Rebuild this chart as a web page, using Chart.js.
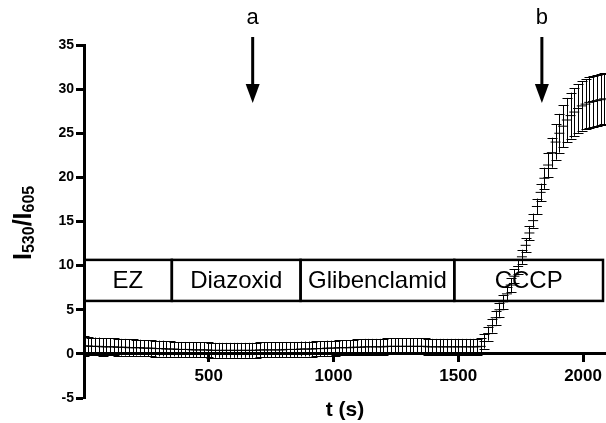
<!DOCTYPE html>
<html>
<head>
<meta charset="utf-8">
<script src="https://cdn.jsdelivr.net/npm/chart.js@4"></script>
<style>
  html, body { margin: 0; padding: 0; background: #fff; }
  canvas { display: block; }
</style>
</head>
<body>
<canvas id="ratioChart" width="606" height="423"></canvas>
<script>
// sample interval of the recording (s)
const sampleStep = 15;

// mean I530/I605 ratio per sample
const meanRatio = [
  0.9, 0.9, 0.85, 0.85, 0.85, 0.8, 0.8, 0.8, 0.8, 0.75,
  0.75, 0.75, 0.7, 0.7, 0.7, 0.7, 0.65, 0.65, 0.65, 0.6,
  0.6, 0.6, 0.55, 0.55, 0.55, 0.5, 0.5, 0.5, 0.5, 0.45,
  0.45, 0.45, 0.45, 0.45, 0.4, 0.4, 0.4, 0.4, 0.4, 0.4,
  0.4, 0.4, 0.4, 0.4, 0.4, 0.4, 0.4, 0.45, 0.45, 0.45,
  0.45, 0.45, 0.45, 0.45, 0.5, 0.5, 0.5, 0.5, 0.55, 0.55,
  0.55, 0.55, 0.6, 0.6, 0.6, 0.65, 0.65, 0.65, 0.7, 0.7,
  0.7, 0.7, 0.75, 0.75, 0.75, 0.8, 0.8, 0.8, 0.8, 0.8,
  0.8, 0.85, 0.85, 0.85, 0.85, 0.85, 0.85, 0.85, 0.85, 0.85,
  0.85, 0.85, 0.8, 0.8, 0.8, 0.8, 0.8, 0.8, 0.8, 0.8,
  0.8, 0.8, 0.8, 0.8, 0.8, 0.8, 0.85,
  // CCCP response
  1.4, 2.3, 3.2, 4.1, 5.0, 5.9, 6.8, 7.8, 8.8, 9.9,
  11.0, 12.3, 13.7, 15.1, 16.7, 18.3, 19.9, 21.4, 22.8, 24.0,
  25.0, 25.8, 26.5, 27.0, 27.4, 27.8, 28.1, 28.3, 28.5, 28.6,
  28.7, 28.8, 28.9
];

// error (+/-) per sample
const errRatio = [
  1.1, 1.05, 1.0, 1.0, 1.0, 1.0, 0.95, 0.95, 0.95, 0.95,
  0.95, 0.95, 0.95, 0.95, 0.9, 0.9, 0.9, 0.9, 0.9, 0.9,
  0.9, 0.9, 0.9, 0.9, 0.85, 0.85, 0.85, 0.85, 0.85, 0.85,
  0.85, 0.85, 0.85, 0.85, 0.85, 0.85, 0.85, 0.85, 0.85, 0.85,
  0.85, 0.85, 0.85, 0.85, 0.85, 0.85, 0.85, 0.85, 0.85, 0.85,
  0.85, 0.85, 0.85, 0.85, 0.85, 0.85, 0.85, 0.85, 0.85, 0.85,
  0.85, 0.85, 0.85, 0.85, 0.85, 0.85, 0.85, 0.85, 0.85, 0.85,
  0.85, 0.85, 0.85, 0.9, 0.9, 0.9, 0.9, 0.9, 0.9, 0.9,
  0.9, 0.9, 0.9, 0.9, 0.9, 0.9, 0.9, 0.9, 0.9, 0.9,
  0.9, 0.9, 0.9, 0.9, 0.9, 0.9, 0.9, 0.9, 0.9, 0.9,
  0.9, 0.9, 0.9, 0.9, 0.9, 0.9, 0.9,
  0.8, 0.8, 0.8, 0.8, 0.8, 0.8, 0.8, 0.8, 0.8, 0.8,
  0.8, 0.8, 0.8, 0.8, 0.9, 1.0, 1.2, 1.4, 1.7, 2.0,
  2.2, 2.4, 2.5, 2.6, 2.7, 2.75, 2.8, 2.85, 2.9, 2.9,
  2.9, 2.9, 2.9
];

// treatment periods (s) shown in the box
const phaseLabels = ['EZ', 'Diazoxid', 'Glibenclamid', 'CCCP'];
const phaseBounds = [0, 352, 868, 1484, 2080];
const phaseBoxRange = [6.0, 10.65];

// arrows above the plot
const arrowLabels = ['a', 'b'];
const arrowTimes = [676, 1835];

const xTicks = [500, 1000, 1500, 2000];
const yTicks = [-5, 0, 5, 10, 15, 20, 25, 30, 35];

const FONT = 'Arial, "Liberation Sans", Helvetica, sans-serif';

const points = meanRatio.map((m, i) => ({ x: i * sampleStep, y: m }));

// box with the treatment names, under the data
const phasePlugin = {
  id: 'phases',
  beforeDatasetsDraw(chart) {
    const { ctx, chartArea, scales: { x, y } } = chart;
    const top = y.getPixelForValue(phaseBoxRange[1]);
    const bottom = y.getPixelForValue(phaseBoxRange[0]);
    ctx.save();
    ctx.beginPath();
    ctx.rect(chartArea.left, chartArea.top, chartArea.right - chartArea.left, chartArea.bottom - chartArea.top);
    ctx.clip();
    ctx.lineWidth = 2.5;
    ctx.strokeStyle = '#000';
    ctx.fillStyle = '#000';
    ctx.font = '24px ' + FONT;
    ctx.textAlign = 'center';
    ctx.textBaseline = 'middle';
    for (let i = 0; i < phaseLabels.length; i++) {
      const l = x.getPixelForValue(phaseBounds[i]);
      const r = x.getPixelForValue(phaseBounds[i + 1]);
      ctx.strokeRect(l, top, r - l, bottom - top);
      ctx.fillText(phaseLabels[i], (l + r) / 2, (top + bottom) / 2 + 1);
    }
    ctx.restore();
  }
};

// vertical error bars with caps
const errorBarPlugin = {
  id: 'errorBars',
  beforeDatasetsDraw(chart) {
    const { ctx, chartArea, scales: { x, y } } = chart;
    const cap = 5;
    ctx.save();
    ctx.beginPath();
    ctx.rect(chartArea.left, chartArea.top, chartArea.right - chartArea.left, chartArea.bottom - chartArea.top);
    ctx.clip();
    ctx.strokeStyle = '#000';
    ctx.lineWidth = 1;
    ctx.beginPath();
    meanRatio.forEach((m, i) => {
      const px = Math.round(x.getPixelForValue(i * sampleStep)) + 0.5;
      const hi = y.getPixelForValue(m + errRatio[i]);
      const lo = y.getPixelForValue(m - errRatio[i]);
      ctx.moveTo(px, hi);
      ctx.lineTo(px, lo);
      ctx.moveTo(px - cap, Math.round(hi) + 0.5);
      ctx.lineTo(px + cap, Math.round(hi) + 0.5);
      ctx.moveTo(px - cap, Math.round(lo) + 0.5);
      ctx.lineTo(px + cap, Math.round(lo) + 0.5);
    });
    ctx.stroke();
    ctx.restore();
  }
};

// axis titles and the arrows
const labelsPlugin = {
  id: 'labels',
  afterDraw(chart) {
    const { ctx, chartArea, scales: { x } } = chart;
    ctx.save();
    ctx.fillStyle = '#000';
    ctx.strokeStyle = '#000';

    // x title
    ctx.font = 'bold 21px ' + FONT;
    ctx.textAlign = 'center';
    ctx.textBaseline = 'middle';
    ctx.fillText('t (s)', (chartArea.left + chartArea.right) / 2, 410);

    // y title I530/I605, rotated
    ctx.save();
    ctx.translate(31, 260);
    ctx.rotate(-Math.PI / 2);
    ctx.textAlign = 'left';
    ctx.textBaseline = 'alphabetic';
    const big = 'bold 25px ' + FONT;
    const small = 'bold 16px ' + FONT;
    let pos = 0;
    [['I', big, 0], ['530', small, 3], ['/I', big, 0], ['605', small, 3]].forEach(([t, f, dy]) => {
      ctx.font = f;
      ctx.fillText(t, pos, dy);
      pos += ctx.measureText(t).width;
    });
    ctx.restore();

    // arrows
    arrowTimes.forEach((t, i) => {
      const px = x.getPixelForValue(t);
      ctx.font = '22px ' + FONT;
      ctx.textAlign = 'center';
      ctx.textBaseline = 'middle';
      ctx.fillText(arrowLabels[i], px, 18);
      ctx.lineWidth = 3;
      ctx.beginPath();
      ctx.moveTo(px, 37);
      ctx.lineTo(px, 88);
      ctx.stroke();
      ctx.beginPath();
      ctx.moveTo(px - 7, 84);
      ctx.lineTo(px + 7, 84);
      ctx.lineTo(px, 103);
      ctx.closePath();
      ctx.fill();
    });
    ctx.restore();
  }
};

new Chart(document.getElementById('ratioChart'), {
  type: 'scatter',
  data: {
    datasets: [{
      data: points,
      showLine: false,
      pointStyle: 'line',
      pointRadius: 5,
      pointHoverRadius: 5,
      borderColor: '#000',
      backgroundColor: '#000',
      borderWidth: 1
    }]
  },
  options: {
    responsive: false,
    devicePixelRatio: 1,
    animation: false,
    events: [],
    layout: { autoPadding: false, padding: { top: 45, left: 0, right: 0, bottom: 25 } },
    plugins: { legend: { display: false }, tooltip: { enabled: false } },
    scales: {
      x: {
        type: 'linear',
        position: { y: 0 },
        min: 0,
        max: 2092,
        afterBuildTicks: s => { s.ticks = xTicks.map(v => ({ value: v })); },
        afterFit: s => { s.height = 25; s.paddingLeft = 0; s.paddingRight = 0; },
        ticks: { color: '#000', font: { family: FONT, size: 17, weight: 'bold' }, padding: 5, maxRotation: 0, callback: v => String(v) },
        grid: { drawOnChartArea: false, drawTicks: true, tickLength: 7, tickWidth: 3, tickColor: '#000' },
        border: { color: '#000', width: 3 }
      },
      y: {
        type: 'linear',
        position: 'left',
        min: -5,
        max: 35,
        afterBuildTicks: s => { s.ticks = yTicks.map(v => ({ value: v })); },
        afterFit: s => { s.width = 84; },
        ticks: { color: '#000', font: { family: FONT, size: 14, weight: 'bold' }, padding: 2, callback: v => String(v) },
        grid: { drawOnChartArea: false, drawTicks: true, tickLength: 8, tickWidth: 3, tickColor: '#000' },
        border: { color: '#000', width: 3 }
      }
    }
  },
  plugins: [phasePlugin, errorBarPlugin, labelsPlugin]
});
</script>
</body>
</html>
